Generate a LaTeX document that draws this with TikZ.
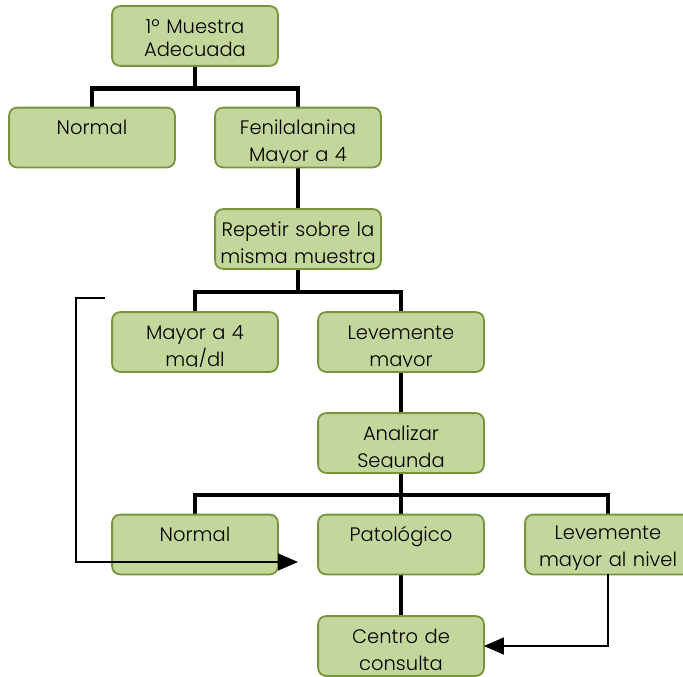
\documentclass[tikz,border=0pt]{standalone}
\usepackage{fontspec}
\setmainfont{Poppins}[UprightFont=* Light]
\usetikzlibrary{arrows.meta,calc}
\definecolor{boxfill}{HTML}{C3D69B}
\definecolor{boxline}{HTML}{77933C}
\begin{document}
\begin{tikzpicture}[x=1pt,y=-1pt,
  box/.style={draw=boxline,fill=boxfill,line width=1.8pt,rounded corners=8pt,
    minimum width=164pt,minimum height=58pt,inner sep=0pt},
  lbl/.style={anchor=base,inner sep=0pt,text width=164pt,align=center,
    font=\fontsize{19.5}{27}\selectfont},
  trunk/.style={line width=4.8pt},
  back/.style={line width=1.4pt,-{Triangle[length=20pt,width=17pt]}}]
\useasboundingbox (0,0) rectangle (683,677);

% boxes
\node[box] (b1)  at (195,36)    {};
\node[box] (n1)  at (92,137.5)  {};
\node[box] (fen) at (298,137.5) {};
\node[box] (rep) at (298,239)   {};
\node[box] (m4)  at (195,342)   {};
\node[box] (lev) at (401,342)   {};
\node[box] (ana) at (401,443)   {};
\node[box] (n2)  at (195,544.5) {};
\node[box] (pat) at (401,544.5) {};
\node[box] (niv) at (608,544.5) {};
\node[box] (cen) at (401,646)   {};

% tree connectors
\coordinate (j1) at ($(b1.south)+(0,23)$);
\coordinate (j2) at ($(rep.south)+(0,23)$);
\coordinate (j3) at ($(ana.south)+(0,22)$);
\draw[trunk] (b1.south) -- (j1);
\draw[trunk] (n1.north) |- (j1) -| (fen.north);
\draw[trunk] (fen.south) -- (rep.north);
\draw[trunk] (rep.south) -- (j2);
\draw[trunk] (m4.north) |- (j2) -| (lev.north);
\draw[trunk] (lev.south) -- (ana.north);
\draw[trunk] (ana.south) -- (j3);
\draw[trunk] (n2.north) |- (j3) -| (niv.north);
\draw[trunk] (j3) -- (pat.north);
\draw[trunk] (pat.south) -- (cen.north);

% boxes again on top of the connectors
\foreach \b in {b1,n1,fen,rep,m4,lev,ana,n2,pat,niv,cen}{
  \path[box] (\b.south west) rectangle (\b.north east);
}

% labels, cut off at the lower edge of each box
\newcommand\boxlabel[4][27]{%
  \begin{scope}
    \clip ($(#2.south west)+(0,-5)$) rectangle (#2.north east);
    \node[lbl] (#2-t) at ($(#2.north)+(0,#1)$) {#3};
  \end{scope}}
\begin{scope}
  \clip ($(b1.south west)+(0,-5)$) rectangle (b1.north east);
  \node[lbl,font=\fontsize{19.5}{23}\selectfont] (b1-t) at ($(b1.north)+(0,27)$) {1º Muestra\\Adecuada};
\end{scope}
\boxlabel{n1}{Normal}{}
\boxlabel{fen}{Fenilalanina\\Mayor a 4}{}
\boxlabel{rep}{Repetir sobre la\\misma muestra}{}
\boxlabel{m4}{Mayor a 4\\mg/dl}{}
\boxlabel{lev}{Levemente\\mayor}{}
\boxlabel{ana}{Analizar\\Segunda}{}
\boxlabel{n2}{Normal}{}
\boxlabel{pat}{Patológico}{}
\boxlabel[25]{niv}{Levemente\\mayor al nivel}{}
\boxlabel{cen}{Centro de\\consulta}{}

% return arrows
\coordinate (r0) at (105,298);
\coordinate (r1) at (76,298);
\coordinate (r2) at (76,562);
\coordinate (r3) at (298,562);
\draw[back] (r0) -- (r1) -- (r2) -- (r3);
\draw[back] (niv.south) |- (cen.east);
\end{tikzpicture}
\end{document}
